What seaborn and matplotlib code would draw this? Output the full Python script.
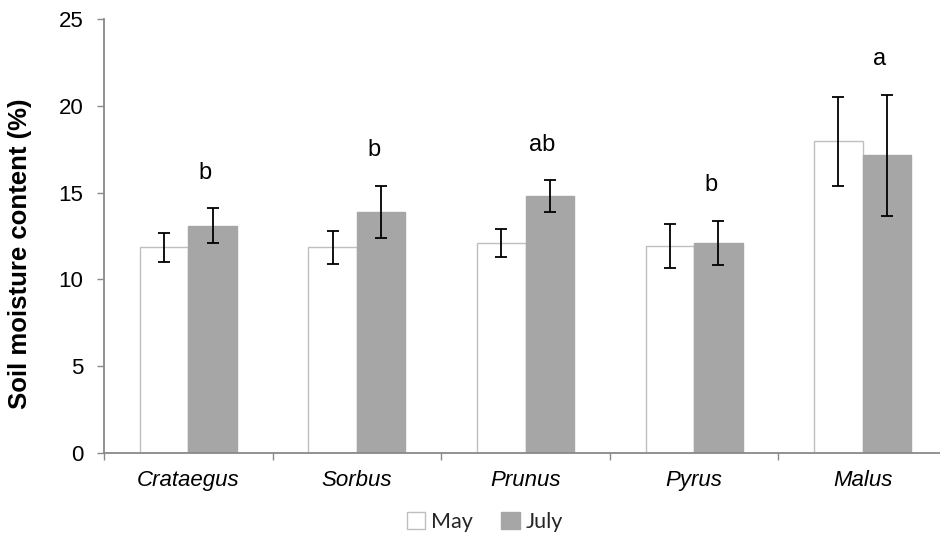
import matplotlib
matplotlib.use("Agg")
import matplotlib.pyplot as plt
from matplotlib.patches import Patch
from matplotlib.ticker import FixedLocator, NullFormatter
import numpy as np
import pandas as pd
import seaborn as sns

# Soil moisture (%) by genus, two sampling months
genera = ["Crataegus", "Sorbus", "Prunus", "Pyrus", "Malus"]
months = ["May", "July"]
may_mean = [11.85, 11.85, 12.1, 11.9, 17.95]
may_err = [0.85, 0.95, 0.8, 1.27, 2.55]
july_mean = [13.1, 13.9, 14.8, 12.1, 17.15]
july_err = [1.0, 1.5, 0.9, 1.28, 3.5]
letters = ["b", "b", "ab", "b", "a"]

df = pd.DataFrame({
    "genus": genera * 2,
    "month": ["May"] * len(genera) + ["July"] * len(genera),
    "moisture": may_mean + july_mean,
    "err": may_err + july_err,
})

sns.set_theme(style="white")
plt.rcParams["font.family"] = ["Liberation Sans", "DejaVu Sans"]

axis_grey = "#898989"
fills = {"May": "#FFFFFF", "July": "#A6A6A6"}
edges = {"May": "#BFBFBF", "July": "#A6A6A6"}

fig = plt.figure(figsize=(9.4, 5.42), dpi=100)
ax = fig.add_axes([104 / 940, 89 / 542, 843 / 940, 434 / 542])

sns.barplot(data=df, x="genus", y="moisture", hue="month", order=genera,
            hue_order=months, palette=fills, errorbar=None, width=0.575,
            legend=False, ax=ax)

for month, container in zip(months, ax.containers):
    sub = df[df["month"] == month].set_index("genus").loc[genera]
    for bar in container:
        bar.set_edgecolor(edges[month])
        bar.set_linewidth(1.0)
    xs = [b.get_x() + b.get_width() / 2 for b in container]
    ax.errorbar(xs, sub["moisture"], yerr=sub["err"], fmt="none",
                ecolor="black", elinewidth=1.3, capsize=4.5, capthick=1.3,
                zorder=5)

# significance letters above the July bars
top = np.array(july_mean) + np.array(july_err)
for i, (lab, t) in enumerate(zip(letters, top)):
    ax.text(i + 0.1, t + 1.7, lab, ha="center", va="baseline", fontsize=17,
            color="black")

ax.set_xlim(-0.5, 4.5)
ax.set_ylim(0, 25)
ax.set_yticks(range(0, 26, 5))
ax.set_xlabel("")
ax.set_ylabel("Soil moisture content (%)", fontsize=18.5, fontweight="bold",
              color="black")
ax.yaxis.set_label_coords(-0.085, 0.46)

ax.tick_params(axis="y", which="major", direction="out", length=5, width=1,
               color=axis_grey, labelsize=16, labelcolor="black", pad=10,
               left=True)
ax.tick_params(axis="x", which="major", length=0, labelsize=16,
               labelcolor="black", pad=12)
for lbl in ax.get_xticklabels():
    lbl.set_fontstyle("italic")
ax.xaxis.set_minor_locator(FixedLocator(np.arange(-0.5, 5.0, 1.0)))
ax.xaxis.set_minor_formatter(NullFormatter())
ax.tick_params(axis="x", which="minor", direction="out", length=5, width=1,
               color=axis_grey, bottom=True)

for side in ["top", "right"]:
    ax.spines[side].set_visible(False)
for side in ["left", "bottom"]:
    ax.spines[side].set_color(axis_grey)
    ax.spines[side].set_linewidth(1.3)

handles = [Patch(facecolor=fills[m], edgecolor=edges[m], linewidth=1.0, label=m)
           for m in months]
fig.legend(handles=handles, loc="center", bbox_to_anchor=(485 / 940, 1 - 522 / 542),
           ncol=2, frameon=False, handlelength=0.85, handleheight=0.85,
           handletextpad=0.3, columnspacing=1.3,
           prop={"family": ["Lato", "DejaVu Sans"], "size": 15.5})

fig.savefig("out.png", dpi=100)
